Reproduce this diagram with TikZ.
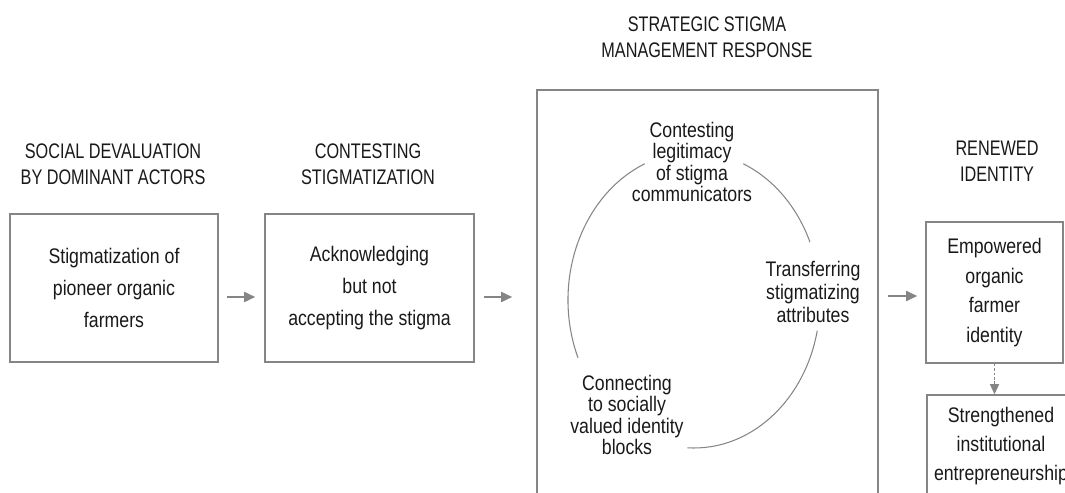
\documentclass[tikz,border=0pt]{standalone}
\usepackage{fontspec}
\setmainfont{Liberation Sans}[FakeStretch=0.84]
\newfontfamily\headfont{Liberation Sans}[FakeStretch=0.77]
\usetikzlibrary{arrows.meta,positioning,calc}
\definecolor{linegray}{rgb}{0.52,0.52,0.52}
\definecolor{inkgray}{rgb}{0.1,0.1,0.1}
\tikzstyle{box} = [rectangle, draw=linegray, line width=0.9pt, text=inkgray, align=center, font=\fontsize{12}{18}\selectfont]
\tikzstyle{head} = [align=center, text=inkgray, font=\headfont\fontsize{12}{14.8}\selectfont]
\tikzstyle{tactic} = [align=center, text=inkgray, font=\fontsize{12}{12}\selectfont]
\tikzstyle{loopline} = [line width=0.6pt, draw=linegray]
\tikzstyle{arrow} = [line width=1pt, draw=linegray, -{Triangle[length=2.2mm,width=2mm]}]
\tikzstyle{dasharrow} = [line width=0.8pt, draw=linegray, dash pattern=on 1.5pt off 1pt, -{Triangle[length=2mm,width=1.8mm]}]

\begin{document}
\begin{tikzpicture}
\clip (0,0) rectangle (21.3,9.84);
% headings
\node (h1) at (2.26,6.56) [head] {SOCIAL DEVALUATION\\BY DOMINANT ACTORS};
\node (h2) at (7.36,6.56) [head] {CONTESTING\\STIGMATIZATION};
\node (h3) at (14.14,9.1) [head] {STRATEGIC STIGMA\\MANAGEMENT RESPONSE};
\node (h4) at (19.94,6.62) [head] {RENEWED\\IDENTITY};
% boxes
\node (b1) at (2.28,4.08) [box, minimum width=4.16cm, minimum height=2.96cm] {Stigmatization of\\pioneer organic\\farmers};
\node (b2) at (7.39,4.08) [box, minimum width=4.18cm, minimum height=2.96cm] {Acknowledging\\but not\\accepting the stigma};
\node (b3) at (14.15,3.92) [box, minimum width=6.82cm, minimum height=8.24cm] {};
\node (b4) at (19.89,3.99) [box, minimum width=2.74cm, minimum height=2.82cm, font=\fontsize{12}{17}\selectfont] {Empowered\\organic\\farmer\\identity};
\node (b5) at (20.02,0.92) [box, minimum width=2.96cm, minimum height=2.04cm, font=\fontsize{12}{16.5}\selectfont] {Strengthened\\institutional\\entrepreneurship};
% cycle of tactics
\coordinate (c) at (13.88,3.84);
\draw [loopline] (c) ++(113:2.52 and 2.96) arc[start angle=113, end angle=203, x radius=2.52, y radius=2.96];
\draw [loopline] (c) ++(23:2.52 and 2.96) arc[start angle=23, end angle=67, x radius=2.52, y radius=2.96];
\draw [loopline] (c) ++(-93:2.52 and 2.96) arc[start angle=-93, end angle=-12, x radius=2.52, y radius=2.96];
\node (t1) at (13.84,6.6) [tactic] {Contesting\\legitimacy\\of stigma\\communicators};
\node (t2) at (16.26,4.0) [tactic, font=\fontsize{12}{13.3}\selectfont] {Transferring\\stigmatizing\\attributes};
\node (t3) at (12.54,1.54) [tactic] {Connecting\\to socially\\valued identity\\blocks};
% arrows
\draw [arrow, shorten <=0.16cm, shorten >=0.18cm] ([yshift=-0.18cm]b1.east) -- ([yshift=-0.18cm]b2.west);
\draw [arrow, shorten <=0.18cm, shorten >=0.48cm] ([yshift=-0.18cm]b2.east) -- ([yshift=-0.18cm]b2.east -| b3.west);
\draw [arrow, shorten <=0.18cm, shorten >=0.16cm] (b3.east) -- (b3.east -| b4.west);
\draw [dasharrow] (b4.south) -- (b4.south |- b5.north);
\end{tikzpicture}
\end{document}
